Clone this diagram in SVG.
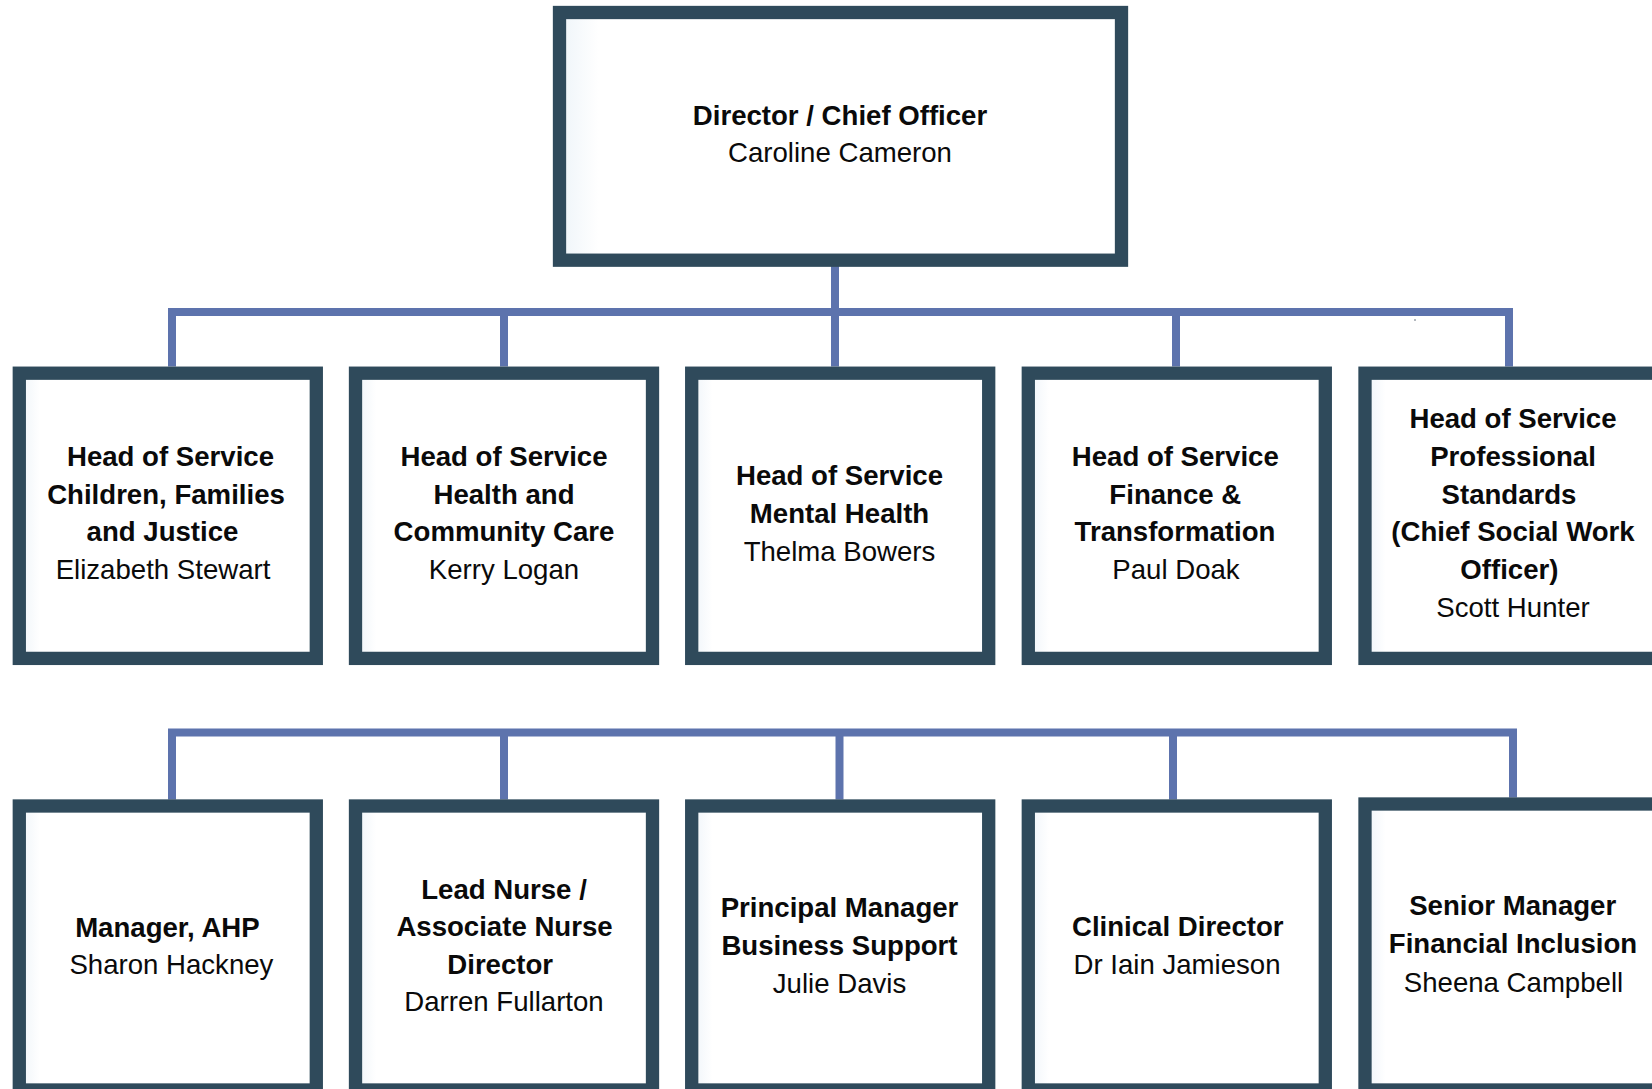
<svg xmlns="http://www.w3.org/2000/svg" width="1652" height="1089" viewBox="0 0 1652 1089">
<style>
.box{fill:url(#glow);stroke:#2f4a5b;stroke-width:13.3}
.conn{fill:none;stroke:#5d73ad;stroke-width:8;stroke-linejoin:miter;stroke-linecap:butt}
text{font-family:"Liberation Sans",Arial,sans-serif;font-size:27.6px;fill:#0a0a0a;text-anchor:middle}
.b{font-weight:bold}
</style>
<defs>
<linearGradient id="glow" x1="0" y1="0" x2="1" y2="0">
<stop offset="0" stop-color="#eef4f9"/>
<stop offset="0.07" stop-color="#ffffff"/>
<stop offset="1" stop-color="#ffffff"/>
</linearGradient>
</defs>
<rect width="1652" height="1089" fill="#ffffff"/>
<g id="connectors">
<path class="conn" d="M835 266 V366.5"/>
<path class="conn" d="M172 366.5 V312 H1509 V366.5"/>
<path class="conn" d="M504 312 V366.5"/>
<path class="conn" d="M1176 312 V366.5"/>
<path class="conn" d="M172 799.5 V732.5 H1513 V797.5"/>
<path class="conn" d="M504 736 V799.5"/>
<path class="conn" d="M839.5 736 V799.5"/>
<path class="conn" d="M1173 736 V799.5"/>
</g>
<circle cx="1415" cy="320" r="1" fill="#9aa0aa"/>
<g id="director">
<rect class="box" x="559.5" y="12.5" width="562" height="247.7"/>
<text class="b" x="840" y="124.5">Director / Chief Officer</text>
<text x="840" y="162.3">Caroline Cameron</text>
</g>
<g id="hos-children">
<rect class="box" x="19.3" y="373.2" width="297" height="285.2"/>
<text class="b" x="170.5" y="466">Head of Service</text>
<text class="b" x="166" y="503.5">Children, Families</text>
<text class="b" x="162.5" y="541">and Justice</text>
<text x="163" y="579">Elizabeth Stewart</text>
</g>
<g id="hos-health">
<rect class="box" x="355.5" y="373.2" width="297" height="285.2"/>
<text class="b" x="504" y="466">Head of Service</text>
<text class="b" x="504" y="503.5">Health and</text>
<text class="b" x="504" y="541">Community Care</text>
<text x="504" y="579">Kerry Logan</text>
</g>
<g id="hos-mental">
<rect class="box" x="691.7" y="373.2" width="297" height="285.2"/>
<text class="b" x="839.5" y="485">Head of Service</text>
<text class="b" x="839.5" y="523">Mental Health</text>
<text x="839.5" y="560.5">Thelma Bowers</text>
</g>
<g id="hos-finance">
<rect class="box" x="1028.3" y="373.2" width="297" height="285.2"/>
<text class="b" x="1175.3" y="466">Head of Service</text>
<text class="b" x="1175.3" y="503.5">Finance &amp;</text>
<text class="b" x="1175" y="541">Transformation</text>
<text x="1176" y="579">Paul Doak</text>
</g>
<g id="hos-professional">
<rect class="box" x="1365" y="373.2" width="297" height="285.2"/>
<text class="b" x="1513" y="428.3">Head of Service</text>
<text class="b" x="1513" y="466">Professional</text>
<text class="b" x="1509" y="503.5">Standards</text>
<text class="b" x="1513" y="541">(Chief Social Work</text>
<text class="b" x="1509.4" y="578.5">Officer)</text>
<text x="1513" y="616.5">Scott Hunter</text>
</g>
<g id="manager-ahp">
<rect class="box" x="19.3" y="806" width="297" height="284"/>
<text class="b" x="167.4" y="936.5">Manager, AHP</text>
<text x="171.4" y="973.5">Sharon Hackney</text>
</g>
<g id="lead-nurse">
<rect class="box" x="355.5" y="806" width="297" height="284"/>
<text class="b" x="504" y="898.7">Lead Nurse /</text>
<text class="b" x="504.5" y="936">Associate Nurse</text>
<text class="b" x="500.2" y="973.5">Director</text>
<text x="504" y="1010.7">Darren Fullarton</text>
</g>
<g id="principal-manager">
<rect class="box" x="691.7" y="806" width="297" height="284"/>
<text class="b" x="839.5" y="916.7">Principal Manager</text>
<text class="b" x="839.5" y="955">Business Support</text>
<text x="839.5" y="992.7">Julie Davis</text>
</g>
<g id="clinical-director">
<rect class="box" x="1028.3" y="806" width="297" height="284"/>
<text class="b" x="1177.8" y="936">Clinical Director</text>
<text x="1177" y="973.5">Dr Iain Jamieson</text>
</g>
<g id="senior-manager">
<rect class="box" x="1365" y="804" width="297" height="286"/>
<text class="b" x="1512.7" y="915">Senior Manager</text>
<text class="b" x="1513" y="953.3">Financial Inclusion</text>
<text x="1513.5" y="991.7">Sheena Campbell</text>
</g>
</svg>
